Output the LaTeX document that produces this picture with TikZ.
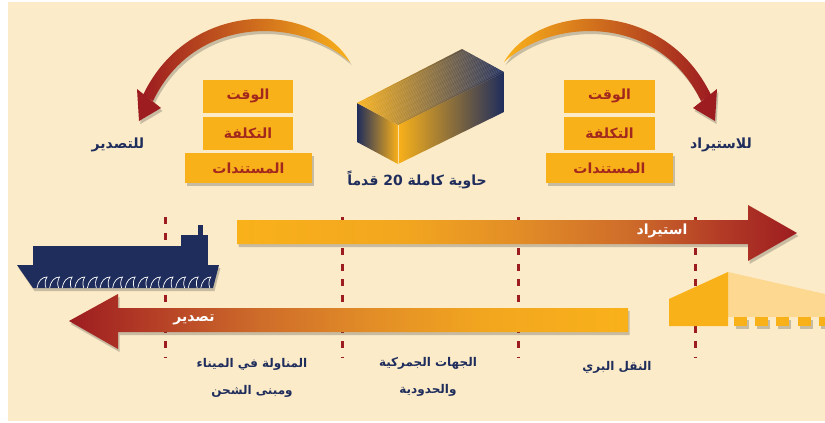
\documentclass[tikz,border=0pt]{standalone}
\usepackage{fontspec}
\usetikzlibrary{shadows}
\TeXXeTstate=1
\newfontfamily\arabicfont[Script=Arabic]{DejaVu Sans}

\definecolor{cream}{HTML}{FCEBC8}
\definecolor{gold}{HTML}{F9B11A}
\definecolor{paleGold}{HTML}{FDD891}
\definecolor{rust}{HTML}{9D1C20}
\definecolor{amber}{HTML}{E08B27}
\definecolor{navy}{HTML}{1F2D5C}
\definecolor{boxtext}{HTML}{A2281E}
\definecolor{mauve}{HTML}{85635A}
\definecolor{tan}{HTML}{C28C4E}
% gradient stops for the two long arrows
\definecolor{impA}{HTML}{F9B11A}
\definecolor{impB}{HTML}{F2A61F}
\definecolor{impC}{HTML}{E28D27}
\definecolor{impD}{HTML}{CE6C2A}
\definecolor{impE}{HTML}{B33C26}
\definecolor{impF}{HTML}{9D1C20}

\pgfdeclarehorizontalshading{importshade}{100bp}{color(0bp)=(impA); color(25bp)=(impA); color(40bp)=(impB); color(50bp)=(impC); color(60bp)=(impD); color(68bp)=(impE); color(75bp)=(impF); color(100bp)=(impF)}
\pgfdeclarehorizontalshading{exportshade}{100bp}{color(0bp)=(impF); color(25bp)=(impF); color(32bp)=(impE); color(42bp)=(impD); color(52bp)=(impC); color(62bp)=(impB); color(75bp)=(impA); color(100bp)=(impA)}

\begin{document}
\begin{tikzpicture}[x=1pt,y=-1pt,
  softshadow/.style={drop shadow={shadow xshift=1.5pt,shadow yshift=-3pt,fill=black!75,opacity=0.28}},
  costbox/.style={fill=gold,inner sep=0pt,minimum height=33pt,text=boxtext,
    font=\arabicfont\fontsize{14}{16}\selectfont\bfseries},
  lbl/.style={text=navy,inner sep=0pt,align=center,
    font=\arabicfont\fontsize{12}{27}\selectfont\bfseries},
  toplbl/.style={lbl,font=\arabicfont\fontsize{14}{16}\selectfont\bfseries},
  arrowlbl/.style={text=white,inner sep=0pt,
    font=\arabicfont\fontsize{14}{16}\selectfont\bfseries},
  sepline/.style={draw=rust,line width=3pt,dash pattern=on 7pt off 8.5pt},
  hullwave/.style={draw=white,line width=0.7pt}]

\useasboundingbox (0,0) rectangle (825,423);
\fill[white] (0,0) rectangle (825,423);
\fill[cream] (8,2) rectangle (825,421);

% ---------- curved arrows above the cost boxes ----------
\shade[left color=rust,middle color=amber,right color=gold,softshadow]
  (350,62) .. controls (315,2) and (190,-3) .. (143,95)
  -- (153,101) .. controls (195,14) and (300,17) .. (350,62) -- cycle;
\fill[rust,softshadow] (137,89) -- (161,108) -- (139,121) -- cycle;

\shade[left color=gold,middle color=amber,right color=rust,softshadow]
  (504,62) .. controls (539,2) and (664,-3) .. (711,95)
  -- (701,101) .. controls (659,14) and (554,17) .. (504,62) -- cycle;
\fill[rust,softshadow] (717,89) -- (693,108) -- (715,121) -- cycle;

% ---------- cost boxes ----------
\node[costbox,minimum width=90pt] (timeL) at (248,96) {\beginR الوقت\endR};
\node[costbox,minimum width=90pt] (costL) at (248,133.5) {\beginR التكلفة\endR};
\node[costbox,minimum width=127pt,minimum height=30pt,softshadow] (docsL) at (248.5,168) {\beginR المستندات\endR};

\node[costbox,minimum width=91pt] (timeR) at (609.5,96) {\beginR الوقت\endR};
\node[costbox,minimum width=91pt] (costR) at (609.5,133.5) {\beginR التكلفة\endR};
\node[costbox,minimum width=127pt,minimum height=30pt,softshadow] (docsR) at (609.5,168) {\beginR المستندات\endR};

\node[toplbl] (toExport) at (118,145) {\beginR للتصدير\endR};
\node[toplbl] (toImport) at (721,145) {\beginR للاستيراد\endR};

% ---------- container ----------
% end face
\shade[left color=navy,right color=gold]
  (357,103) -- (398,125) -- (398,164) -- (357,142) -- cycle;
% long side
\shade[left color=gold,middle color=mauve,right color=navy]
  (398,125) -- (504,72) -- (504,112) -- (398,164) -- cycle;
% roof with its corrugation
\shade[left color=gold,middle color=tan,right color=navy]
  (357,103) -- (462,49) -- (504,72) -- (398,125) -- cycle;
\foreach \s in {0.03,0.06,...,0.98}
  \draw[white,opacity=0.22,line width=0.3pt]
    ({357+41*\s},{103+22*\s}) -- ++(106,-53);
\draw[white,opacity=0.6,line width=0.6pt] (398,125) -- (398,164);
\node[toplbl] (containerLbl) at (417,180)
  {\beginR حاوية كاملة \beginL 20\endL{} قدماً\endR};

% ---------- stage separators ----------
\foreach \x in {165,342,518,695}
  \draw[sepline] (\x,217) -- (\x,358);

% ---------- import / export arrows ----------
\shade[shading=importshade,softshadow]
  (237,220) -- (748,220) -- (748,205) -- (797,233) -- (748,261) -- (748,244) -- (237,244) -- cycle;
\node[arrowlbl] (importLbl) at (662,231) {\beginR استيراد\endR};

\shade[shading=exportshade,softshadow]
  (628,308) -- (118,308) -- (118,294) -- (69,321) -- (118,349) -- (118,332) -- (628,332) -- cycle;
\node[arrowlbl] (exportLbl) at (194,320) {\beginR تصدير\endR};

% ---------- ship ----------
\fill[navy,softshadow] (17,265) -- (219,265) -- (213,288) -- (33,288) -- cycle;
\fill[navy] (33,246) rectangle (182,265);
\fill[navy] (181,235) rectangle (208,265);
\fill[navy] (198,225) rectangle (203,236);
\foreach \i in {0,...,13}
  \draw[hullwave] ({37+12.6*\i},288) .. controls ({38+12.6*\i},281) and ({42+12.6*\i},277) .. ({47+12.6*\i},277)
    .. controls ({45+12.6*\i},280) and ({44.5+12.6*\i},284) .. ({46+12.6*\i},288);

% ---------- land terminal ----------
\fill[paleGold] (728,272) -- (825,294) -- (825,317) -- (728,317) -- cycle;
\fill[gold] (669,299) -- (728,272) -- (728,326) -- (669,326) -- cycle;
\foreach \x in {734,755,776,798,819}
  \fill[gold,softshadow] (\x,317) rectangle ++(13,9);

% ---------- stage labels ----------
\node[lbl] (portLbl) at (252,378) {\beginR المناولة في الميناء\endR\\\beginR ومبنى الشحن\endR};
\node[lbl] (customsLbl) at (428,377) {\beginR الجهات الجمركية\endR\\\beginR والحدودية\endR};
\node[lbl] (landLbl) at (617,367) {\beginR النقل البري\endR};
\end{tikzpicture}
\end{document}
